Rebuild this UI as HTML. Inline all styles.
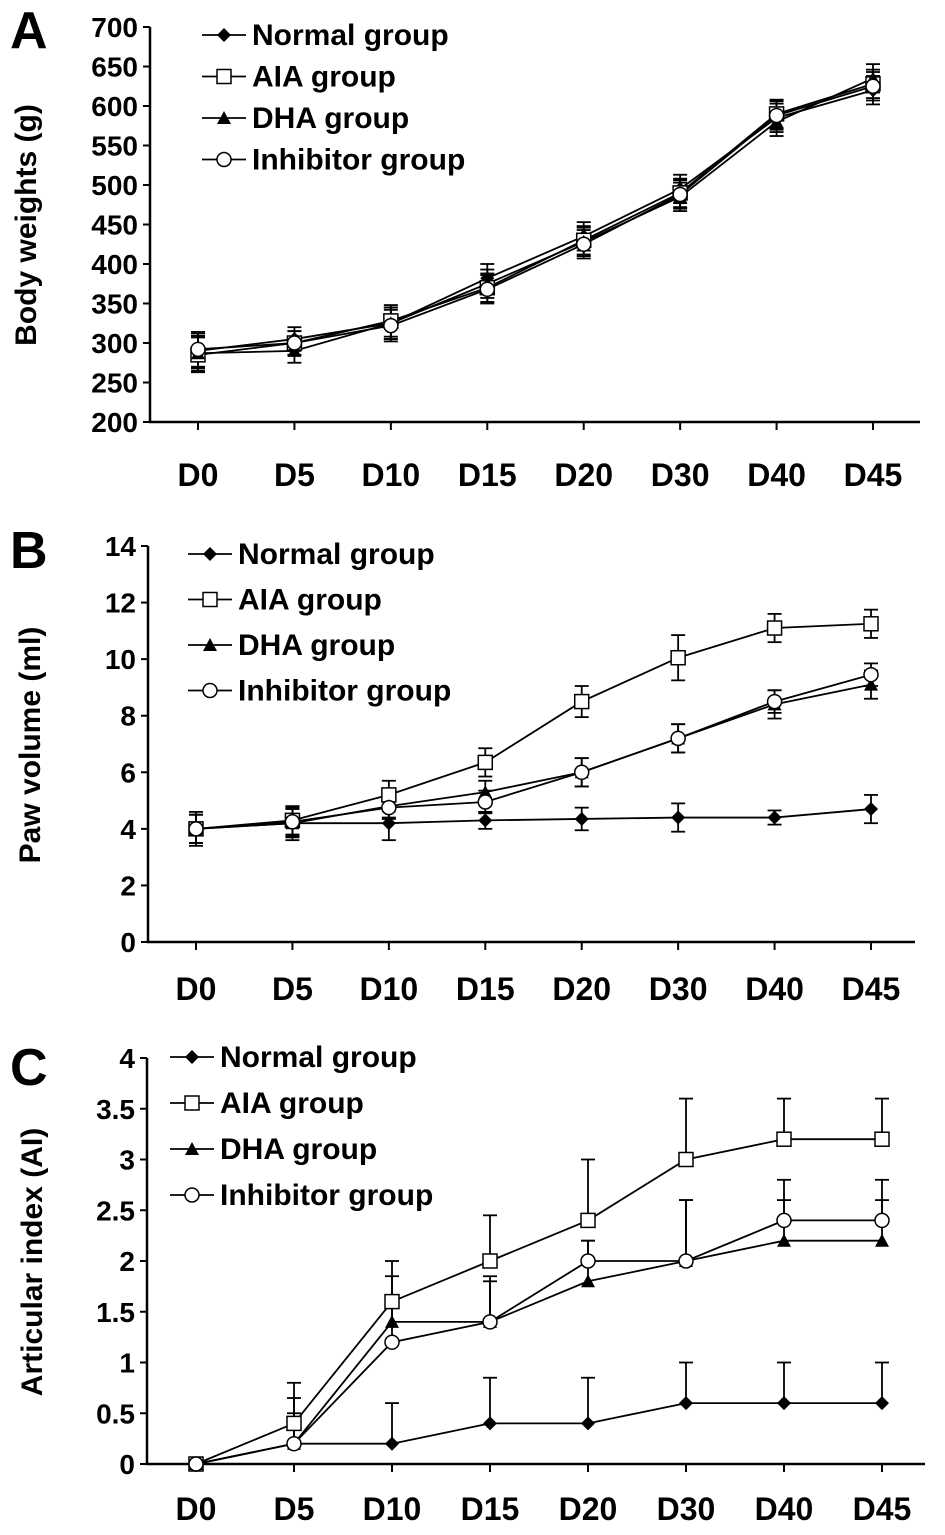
<!DOCTYPE html>
<html><head><meta charset="utf-8"><style>
body{margin:0;background:#fff}
svg{display:block;font-family:"Liberation Sans",Arial,sans-serif;font-weight:bold}
</style></head><body>
<svg id="c" width="945" height="1535" viewBox="0 0 945 1535" xmlns="http://www.w3.org/2000/svg"></svg>
<script>
const categories=["D0","D5","D10","D15","D20","D30","D40","D45"];
const seriesNames=["Normal group","AIA group","DHA group","Inhibitor group"];
const aNormal=[290,305,325,382,435,495,585,620];
const aAIA=[285,300,328,370,430,490,590,628];
const aDHA=[287,290,325,375,428,485,580,635];
const aInhib=[292,300,322,368,425,488,588,625];
const aErr=[22,15,20,18,18,18,18,18];
const aTicks=[200,250,300,350,400,450,500,550,600,650,700];
const bNormal=[4.0,4.2,4.2,4.3,4.35,4.4,4.4,4.7];
const bNormalErr=[0.6,0.6,0.6,0.3,0.4,0.5,0.25,0.5];
const bAIA=[4.0,4.3,5.2,6.35,8.5,10.05,11.1,11.25];
const bAIAErr=[0.5,0.5,0.5,0.5,0.55,0.8,0.5,0.5];
const bDHA=[4.0,4.2,4.8,5.3,6.0,7.2,8.4,9.1];
const bDHAErr=[0.5,0.5,0.4,0.4,0.5,0.5,0.5,0.5];
const bInhib=[4.0,4.25,4.75,4.95,6.0,7.2,8.5,9.45];
const bInhibErr=[0.5,0.5,0.4,0.4,0.5,0.5,0.4,0.4];
const bTicks=[0,2,4,6,8,10,12,14];
const cNormal=[0,0.2,0.2,0.4,0.4,0.6,0.6,0.6];
const cNormalErr=[0,0,0.4,0.45,0.45,0.4,0.4,0.4];
const cAIA=[0,0.4,1.6,2.0,2.4,3.0,3.2,3.2];
const cAIAErr=[0,0.4,0.4,0.45,0.6,0.6,0.4,0.4];
const cDHA=[0,0.2,1.4,1.4,1.8,2.0,2.2,2.2];
const cDHAErr=[0,0.45,0.45,0.45,0.4,0.6,0.4,0.4];
const cInhib=[0,0.2,1.2,1.4,2.0,2.0,2.4,2.4];
const cInhibErr=[0,0.3,0.45,0.4,0.2,0.6,0.4,0.4];
const cTicks=[0,0.5,1,1.5,2,2.5,3,3.5,4];

const svg=document.getElementById('c');
const NS="http://www.w3.org/2000/svg";
function mk(tag,attrs,parent){const e=document.createElementNS(NS,tag);for(const k in attrs)e.setAttribute(k,attrs[k]);(parent||svg).appendChild(e);return e;}
function marker(g,type,x,y){
  if(type===0){const m=mk('polygon',{points:`${x},${y-7} ${x+7},${y} ${x},${y+7} ${x-7},${y}`,fill:'#000'},g);}
  else if(type===1){const m=mk('rect',{x:x-7,y:y-7,width:14,height:14,fill:'#fff',stroke:'#000','stroke-width':1.5},g);}
  else if(type===2){const m=mk('polygon',{points:`${x},${y-7} ${x+7},${y+6} ${x-7},${y+6}`,fill:'#000'},g);}
  else {const m=mk('circle',{cx:x,cy:y,r:7,fill:'#fff',stroke:'#000','stroke-width':1.5},g);}
}
function chart(p){
  const g=mk('g',{});
  
  
  const lo=p.ticks[0],hi=p.ticks[p.ticks.length-1];
  const ys=v=>p.y0+(v-lo)/(hi-lo)*(p.y1-p.y0);
  const xs=i=>p.xs0+i*(p.xs1-p.xs0)/(categories.length-1);
  const ax=mk('path',{d:`M${p.ax},${p.y1} V${p.y0} H${p.axEnd}`,stroke:'#000','stroke-width':2.5,fill:'none'},g);
  
  p.ticks.forEach(t=>{
    mk('line',{x1:p.ax-7,x2:p.ax,y1:ys(t),y2:ys(t),stroke:'#000','stroke-width':2},g);
    const tx=mk('text',{x:p.ax-12,y:ys(t)+10,'text-anchor':'end','font-size':28},g);tx.textContent=t;
    
  });
  categories.forEach((c,i)=>{
    mk('line',{x1:xs(i),x2:xs(i),y1:p.y0,y2:p.y0+8,stroke:'#000','stroke-width':2},g);
    const tx=mk('text',{x:xs(i),y:p.xlabY,'text-anchor':'middle','font-size':32},g);tx.textContent=c;
    
  });
  const yt=mk('text',{x:0,y:0,'text-anchor':'middle','font-size':30,transform:`translate(${p.ylx},${p.yly}) rotate(-90)`},g);yt.textContent=p.ytitle;
  
  const L=mk('text',{x:10,y:p.letterY,'font-size':52},g);L.textContent=p.letter;
  
  p.series.forEach((s,k)=>{
    const sg=mk('g',{},g);
    
    
    s.v.forEach((v,i)=>{const e=s.e[i];if(!e)return;const x=xs(i);
      const top=ys(v+e),bot=p.upOnly?ys(v):ys(v-e);
      mk('line',{x1:x,x2:x,y1:top,y2:bot,stroke:'#000','stroke-width':1.8},sg);
      mk('line',{x1:x-7,x2:x+7,y1:top,y2:top,stroke:'#000','stroke-width':1.8},sg);
      if(!p.upOnly)mk('line',{x1:x-7,x2:x+7,y1:bot,y2:bot,stroke:'#000','stroke-width':1.8},sg);
    });
    mk('polyline',{points:s.v.map((v,i)=>xs(i)+','+ys(v)).join(' '),fill:'none',stroke:'#000','stroke-width':1.8},sg);
  });
  p.series.forEach((s,k)=>s.v.forEach((v,i)=>marker(g,k,xs(i),ys(v))));
  seriesNames.forEach((n,k)=>{
    const y=p.legY+k*p.legDy;
    const lg=mk('g',{},g);
    mk('line',{x1:p.legX,x2:p.legX+44,y1:y,y2:y,stroke:'#000','stroke-width':1.8},lg);
    marker(lg,k,p.legX+22,y);
    const t=mk('text',{x:p.legX+50,y:y+10,'font-size':30},lg);t.textContent=n;
  });
}
chart({name:'chart-a-body-weights',letter:'A',letterY:48,ticks:aTicks,y0:422,y1:27,ax:150,axEnd:920,xs0:198,xs1:873,xlabY:486,ytitle:'Body weights (g)',ylx:36,yly:225,
  series:[{v:aNormal,e:aErr},{v:aAIA,e:aErr},{v:aDHA,e:aErr},{v:aInhib,e:aErr}],legX:202,legY:35,legDy:41.5});
chart({name:'chart-b-paw-volume',letter:'B',letterY:568,ticks:bTicks,y0:942,y1:546,ax:148,axEnd:915,xs0:196,xs1:871,xlabY:1000,ytitle:'Paw volume (ml)',ylx:40,yly:745,
  series:[{v:bNormal,e:bNormalErr},{v:bAIA,e:bAIAErr},{v:bDHA,e:bDHAErr},{v:bInhib,e:bInhibErr}],legX:188,legY:554,legDy:45.5});
chart({name:'chart-c-articular-index',letter:'C',letterY:1085,ticks:cTicks,y0:1464,y1:1058,ax:147,axEnd:925,xs0:196,xs1:882,xlabY:1520,ytitle:'Articular index (AI)',ylx:42,yly:1262,upOnly:true,
  series:[{v:cNormal,e:cNormalErr},{v:cAIA,e:cAIAErr},{v:cDHA,e:cDHAErr},{v:cInhib,e:cInhibErr}],legX:170,legY:1057,legDy:46});
</script>
</body></html>
